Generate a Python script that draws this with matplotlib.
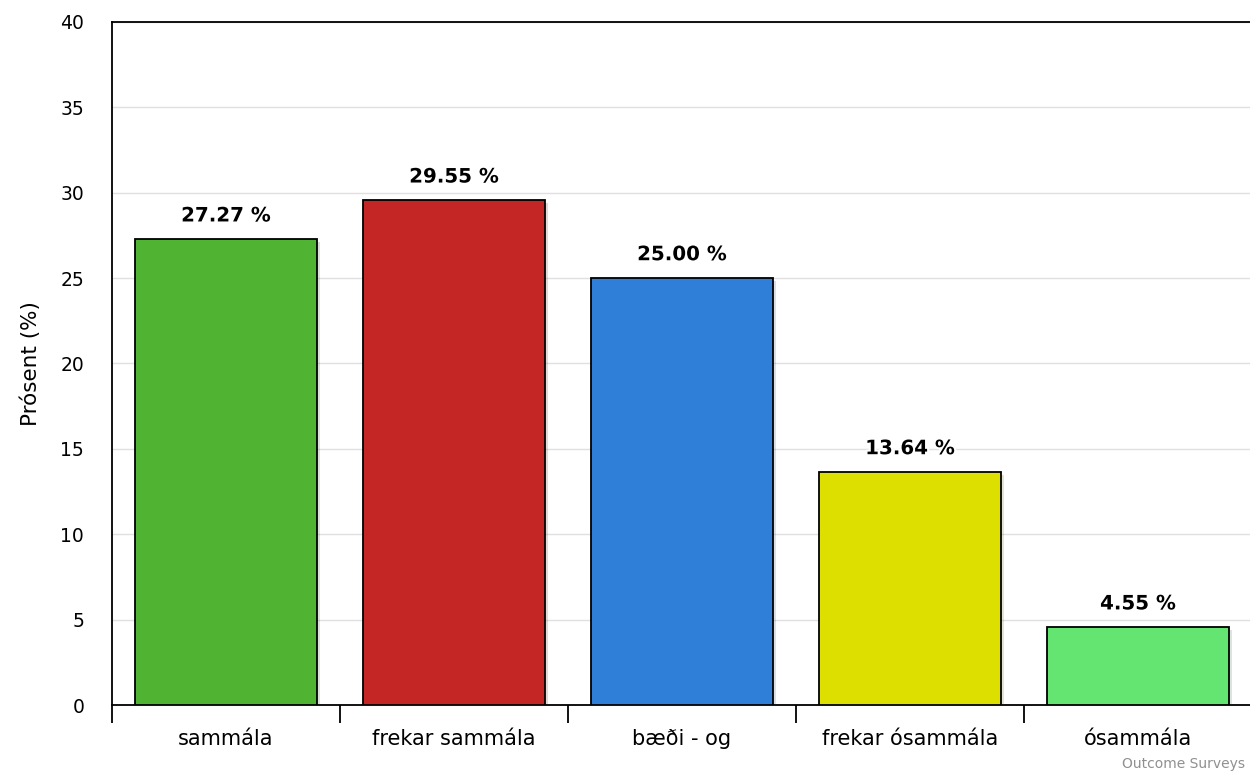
import matplotlib
matplotlib.use("Agg")
import matplotlib.pyplot as plt
import matplotlib.patheffects as pe

categories = ["sammála", "frekar sammála", "bæði - og", "frekar ósammála", "ósammála"]
values = [27.27, 29.55, 25.00, 13.64, 4.55]
colors = ["#50B432", "#C42525", "#2F7ED8", "#DDDF00", "#64E572"]
y_ticks = [0, 5, 10, 15, 20, 25, 30, 35, 40]

plt.rcParams['font.family'] = ['DejaVu Sans']
fig = plt.figure(figsize=(12.5, 7.71), dpi=100)
ax = fig.add_axes([0.0896, 0.0856, 0.9120, 0.8859])

x = list(range(len(categories)))
bars = ax.bar(x, values, width=0.80, color=colors, edgecolor="black", linewidth=1.3, zorder=3,
              path_effects=[pe.SimplePatchShadow(offset=(2, -2), alpha=0.15), pe.Normal()])
for xi, v in zip(x, values):
    ax.annotate(f"{v:.2f} %", (xi, v), xytext=(0, 10), textcoords="offset points",
                ha="center", va="bottom", fontsize=14.3, fontweight="bold", color="#000000",
                path_effects=[pe.withStroke(linewidth=3, foreground="white")], zorder=4)

ax.set_xlim(-0.5, len(categories) - 0.5)
ax.set_ylim(0, 40)
ax.set_yticks(y_ticks)
ax.set_yticklabels([str(t) for t in y_ticks], fontsize=13.5)
ax.tick_params(axis="y", length=0, pad=20)
ax.yaxis.grid(True, color="#e0e0e0", linewidth=1, zorder=0)
ax.set_axisbelow(True)

ax.set_xticks(x)
ax.set_xticklabels(categories, fontsize=15)
ax.tick_params(axis="x", length=0, pad=17)
ax.set_xticks([i - 0.5 for i in range(len(categories) + 1)], minor=True)
ax.tick_params(axis="x", which="minor", length=13, width=1.3, color="black", direction="out")

for s in ["left", "bottom", "top"]:
    ax.spines[s].set_color("black")
    ax.spines[s].set_linewidth(1.3)
ax.spines["right"].set_visible(False)

ax.set_ylabel("Prósent (%)", fontsize=15.5, labelpad=14)

fig.text(0.8976, 0.0, "Outcome Surveys", fontsize=10, color="#909090", ha="left", va="bottom")

fig.savefig("out.png", dpi=100)
